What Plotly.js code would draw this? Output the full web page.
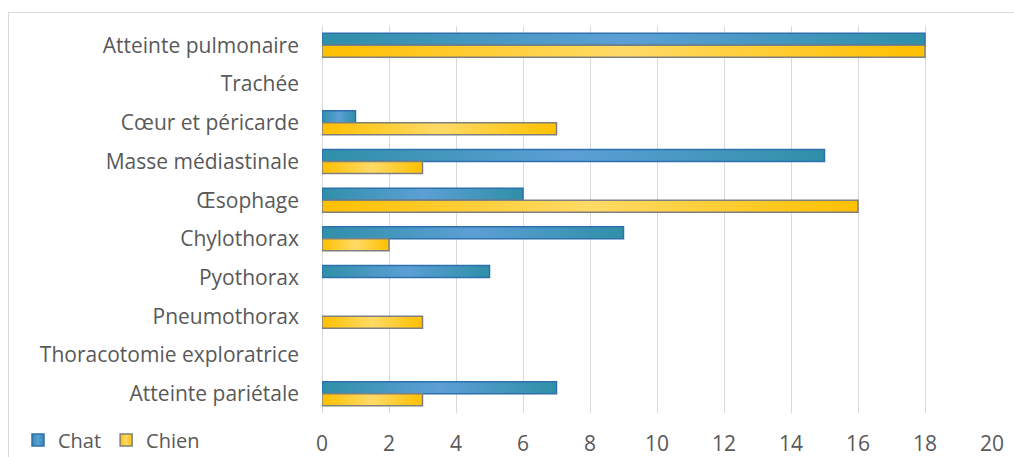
<!DOCTYPE html>
<html>
<head>
<meta charset="utf-8">
<script src="https://cdn.plot.ly/plotly-3.0.1.min.js"></script>
<style>
html,body{margin:0;padding:0;background:#fff;}
#wrap{position:relative;width:1014px;height:457px;overflow:hidden;}
#frame{position:absolute;left:8px;top:12px;width:1100px;height:600px;border:1px solid #d9d9d9;box-sizing:border-box;pointer-events:none;}
#chart{position:absolute;left:0;top:0;width:1014px;height:457px;}
</style>
</head>
<body>
<div id="wrap"><div id="chart"></div><div id="frame"></div></div>
<script>
const categories = ["Atteinte pulmonaire","Trachée","Cœur et péricarde","Masse médiastinale","Œsophage","Chylothorax","Pyothorax","Pneumothorax","Thoracotomie exploratrice","Atteinte pariétale"];
const chat  = [18, 0, 1, 15, 6, 9, 5, 0, 0, 7];
const chien = [18, 0, 7, 3, 16, 2, 0, 3, 0, 3];
const xTicks = [0,2,4,6,8,10,12,14,16,18,20];

const font = "'Open Sans', sans-serif";
const data = [
  {type:'bar', orientation:'h', name:'Chat', y:categories, x:chat,
   marker:{color:'#4597c6', line:{color:'#2e6fae', width:chat.map(function(v){return v ? 1.5 : 0;})}}},
  {type:'bar', orientation:'h', name:'Chien', y:categories, x:chien,
   marker:{color:'#ffcc33', line:{color:'#7f7f7f', width:chien.map(function(v){return v ? 1.5 : 0;})}}}
];
const layout = {
  width:1014, height:457,
  margin:{l:322, r:22, t:26, b:44},
  paper_bgcolor:'rgba(0,0,0,0)', plot_bgcolor:'rgba(0,0,0,0)',
  barmode:'group', bargap:0.38, bargroupgap:0,
  font:{family:font, color:'#595959', size:21},
  showlegend:true,
  legend:{orientation:'h', xref:'container', yref:'container', x:18/1014, y:1-440/457,
          xanchor:'left', yanchor:'middle', font:{size:20, color:'#595959'}, traceorder:'normal',
          itemwidth:30, bgcolor:'rgba(0,0,0,0)'},
  xaxis:{range:[0,20], tickvals:xTicks, ticktext:xTicks.map(String), showgrid:true,
         gridcolor:'#d9d9d9', gridwidth:1, zeroline:true, zerolinecolor:'#d9d9d9', zerolinewidth:1,
         showline:false, ticks:'', tickfont:{size:21, color:'#595959'}, ticklabelstandoff:16, fixedrange:true},
  yaxis:{autorange:'reversed', type:'category', showgrid:false, zeroline:false, showline:false, ticks:'',
         tickfont:{size:21, color:'#595959'}, ticklabelstandoff:22, fixedrange:true}
};
Plotly.newPlot('chart', data, layout, {displayModeBar:false, staticPlot:true}).then(function(gd){
  const svg = gd.querySelector('svg.main-svg');
  const ns = 'http://www.w3.org/2000/svg';
  let defs = svg.querySelector('defs');
  function grad(id, stops){
    const g = document.createElementNS(ns,'linearGradient');
    g.setAttribute('id', id);
    g.setAttribute('x1','0'); g.setAttribute('y1','0'); g.setAttribute('x2','1'); g.setAttribute('y2','0');
    stops.forEach(function(s){
      const st = document.createElementNS(ns,'stop');
      st.setAttribute('offset', s[0]); st.setAttribute('stop-color', s[1]);
      g.appendChild(st);
    });
    defs.appendChild(g);
  }
  grad('gBlue', [['0','#2f8fa8'],['0.5','#5c9fd6'],['1','#2f8fa8']]);
  grad('gYel', [['0','#ffc000'],['0.5','#ffda66'],['1','#ffc000']]);
  const traces = gd.querySelectorAll('.barlayer .trace');
  traces.forEach(function(t, i){
    t.querySelectorAll('path').forEach(function(p){ p.style.fill = i===0 ? 'url(#gBlue)' : 'url(#gYel)'; });
  });
  const leg = gd.querySelectorAll('.legend .traces');
  leg.forEach(function(t, i){
    t.querySelectorAll('.legendpoints path').forEach(function(p){ p.style.fill = i===0 ? 'url(#gBlue)' : 'url(#gYel)'; });
  });
});
</script>
</body>
</html>
